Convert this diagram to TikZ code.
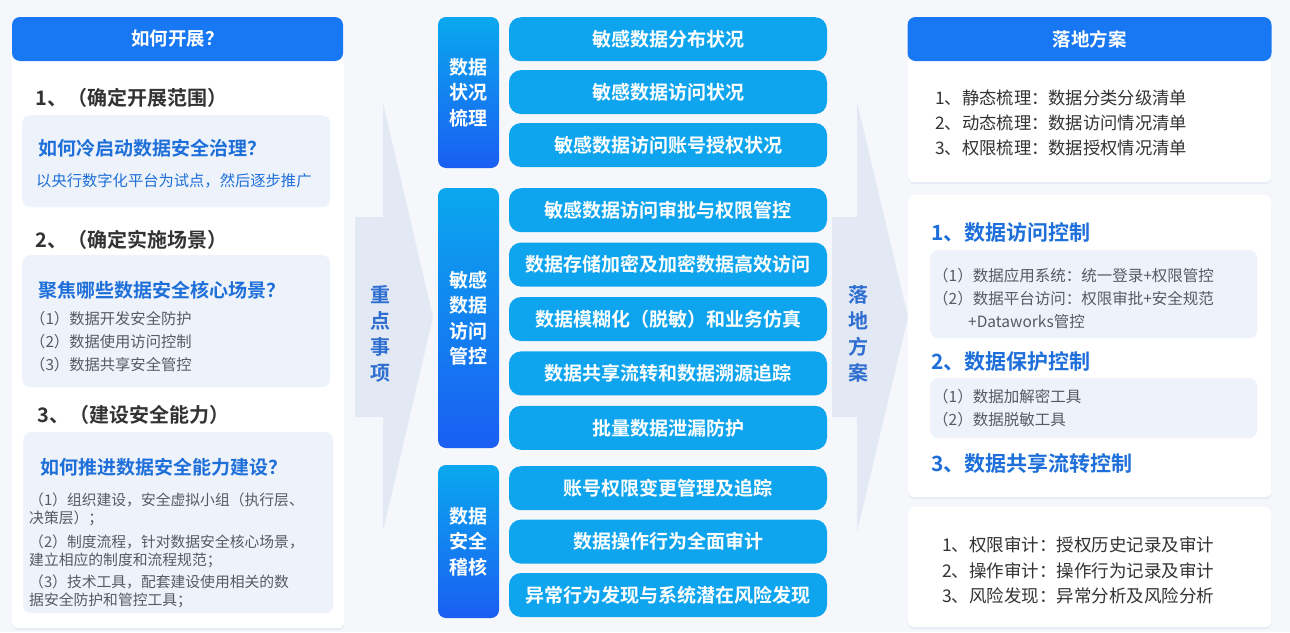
\documentclass[tikz,border=0pt]{standalone}
\usepackage{fontspec}
\setmainfont{Noto Sans CJK SC}[BoldFont={Noto Sans CJK SC Bold}]
\usepackage{tikz}
\usetikzlibrary{positioning, shadows}
\definecolor{PageBg}    {RGB}{245, 247, 251}
\definecolor{HeadBlue}  {RGB}{ 24, 120, 243}
\definecolor{TipBg}     {RGB}{238, 243, 251}
\definecolor{TextDark}  {RGB}{ 51,  51,  51}
\definecolor{QBlue}     {RGB}{ 30, 111, 217}
\definecolor{ItemGray}  {RGB}{ 85,  90, 100}
\definecolor{TaskCyan}  {RGB}{ 15, 165, 238}
\definecolor{GroupTop}  {RGB}{ 10, 168, 238}
\definecolor{GroupBot}  {RGB}{ 26,  94, 242}
\definecolor{ArrowBg}   {RGB}{226, 233, 244}
\definecolor{ArrowText} {RGB}{ 46, 110, 208}
\definecolor{ShadowBlue}{RGB}{150, 170, 210}

\begin{document}
\begin{tikzpicture}[
    x=1pt, y=-1pt,
    header/.style={fill=HeadBlue, rounded corners=8pt, text=white, minimum height=44pt, font=\bfseries\fontsize{18.5}{22}\selectfont},
    card/.style={fill=white, rounded corners=6pt, anchor=north west, inner sep=0pt, drop shadow={shadow xshift=0pt, shadow yshift=-2pt, opacity=0.15, fill=ShadowBlue}},
    tip/.style={fill=TipBg, rounded corners=8pt, anchor=north west, inner sep=0pt},
    sect/.style={anchor=west, inner sep=0pt, text=TextDark, font=\bfseries\fontsize{20}{23}\selectfont},
    quest/.style={anchor=west, inner sep=0pt, text=QBlue, font=\bfseries\fontsize{19}{22}\selectfont},
    item/.style={anchor=west, inner sep=0pt, align=left, text=ItemGray, font=\fontsize{15.3}{23}\selectfont},
    para/.style={item, font=\fontsize{14.8}{18}\selectfont},
    group/.style={top color=GroupTop, bottom color=GroupBot, rounded corners=8pt, minimum width=61pt, text=white, align=center, font=\bfseries\fontsize{19}{25.5}\selectfont},
    task/.style={fill=TaskCyan, rounded corners=12pt, minimum width=318pt, minimum height=44pt, text=white, font=\bfseries\fontsize{19}{22}\selectfont},
    flow/.style={fill=ArrowBg},
    flowtxt/.style={text=ArrowText, align=center, font=\bfseries\fontsize{20}{26}\selectfont},
    plain/.style={anchor=west, inner sep=0pt, align=left, text=TextDark, font=\fontsize{17.3}{25}\selectfont},
    ctrl/.style={anchor=west, inner sep=0pt, text=QBlue, font=\bfseries\fontsize{21}{24}\selectfont}
]

    % Background
    \fill[PageBg] (0,0) rectangle (1290,632);
    \useasboundingbox (0,0) rectangle (1290,632);

    % Flow arrows
    \fill[flow] (355,217) -- (383,217) -- (383,103) -- (433,317) -- (383,531) -- (383,417) -- (355,417) -- cycle;
    \node[flowtxt] (keytxt) at (380,333.5) {重\\点\\事\\项};
    \fill[flow] (832,217) -- (857,217) -- (857,102) -- (908,317) -- (857,532) -- (857,417) -- (832,417) -- cycle;
    \node[flowtxt] (plantxt) at (858,333.5) {落\\地\\方\\案};

    % Left column
    \node[card, minimum width=332pt, minimum height=573pt] (lcard) at (12,55) {};
    \node[header, minimum width=331pt] (lhead) at (177.5,39) {如何开展？};

    \node[sect] (s1) at (35,98) {1、（确定开展范围）};
    \node[tip, minimum width=308pt, minimum height=92pt] (tip1) at (22,115) {};
    \node[quest] (q1) at (38,148) {如何冷启动数据安全治理？};
    \node[quest, font=\fontsize{15.3}{18}\selectfont] (q1a) at (36,181) {以央行数字化平台为试点，然后逐步推广};

    \node[sect] (s2) at (35,240) {2、（确定实施场景）};
    \node[tip, minimum width=308pt, minimum height=132pt] (tip2) at (22,255) {};
    \node[quest] (q2) at (38,290) {聚焦哪些数据安全核心场景？};
    \node[item] (i2) at (30,342) {（1）数据开发安全防护\\（2）数据使用访问控制\\（3）数据共享安全管控};

    \node[sect] (s3) at (37,415) {3、（建设安全能力）};
    \node[tip, minimum width=310pt, minimum height=181pt] (tip3) at (23,432) {};
    \node[quest] (q3) at (40,467) {如何推进数据安全能力建设？};
    \node[para] (i31) at (29,509) {（1）组织建设，安全虚拟小组（执行层、\\决策层）；};
    \node[para] (i32) at (29,551) {（2）制度流程，针对数据安全核心场景，\\建立相应的制度和流程规范；};
    \node[para] (i33) at (29,591) {（3）技术工具，配套建设使用相关的数\\据安全防护和管控工具；};

    % Middle column
    \node[group, minimum height=151pt] (gscan) at (468.5,92.5) {数据\\状况\\梳理};
    \node[group, minimum height=260pt] (gctrl) at (468.5,318) {敏感\\数据\\访问\\管控};
    \node[group, minimum height=153pt] (gaudit) at (468.5,541.5) {数据\\安全\\稽核};

    \node[task, anchor=north] (t1) at (668,17) {敏感数据分布状况};
    \node[task, below=8.5pt of t1] (t2) {敏感数据访问状况};
    \node[task, below=8.5pt of t2] (t3) {敏感数据访问账号授权状况};

    \node[task, anchor=north] (t4) at (668,188) {敏感数据访问审批与权限管控};
    \node[task, below=10pt of t4] (t5) {数据存储加密及加密数据高效访问};
    \node[task, below=10pt of t5] (t6) {数据模糊化（脱敏）和业务仿真};
    \node[task, below=10pt of t6] (t7) {数据共享流转和数据溯源追踪};
    \node[task, below=10pt of t7] (t8) {批量数据泄漏防护};

    \node[task, anchor=north] (t9) at (668,466) {账号权限变更管理及追踪};
    \node[task, below=9pt of t9] (t10) {数据操作行为全面审计};
    \node[task, below=9pt of t10] (t11) {异常行为发现与系统潜在风险发现};

    % Right column
    \node[card, minimum width=363pt, minimum height=127pt] (rcard1) at (908,55) {};
    \node[card, minimum width=363pt, minimum height=302pt] (rcard2) at (908,195) {};
    \node[card, minimum width=363pt, minimum height=120pt] (rcard3) at (908,507) {};
    \node[header, minimum width=364pt] (rhead) at (1089.5,39) {落地方案};

    \node[plain] (sorting) at (935,123) {1、静态梳理：数据分类分级清单\\2、动态梳理：数据访问情况清单\\3、权限梳理：数据授权情况清单};

    \node[ctrl] (c1) at (931,233) {1、数据访问控制};
    \node[tip, minimum width=327pt, minimum height=88pt] (tip4) at (930,250) {};
    \node[item, font=\fontsize{15.5}{23}\selectfont] (c1a) at (933,298) {（1）数据应用系统：统一登录+权限管控\\（2）数据平台访问：权限审批+安全规范\\\hspace*{35pt}+Dataworks管控};

    \node[ctrl] (c2) at (931,362) {2、数据保护控制};
    \node[tip, minimum width=327pt, minimum height=60pt] (tip5) at (930,378) {};
    \node[item, font=\fontsize{15.5}{23}\selectfont] (c2a) at (933,408.5) {（1）数据加解密工具\\（2）数据脱敏工具};

    \node[ctrl] (c3) at (931,463) {3、数据共享流转控制};

    \node[plain, font=\fontsize{17.5}{25.5}\selectfont] (auditing) at (942,570.5) {1、权限审计：授权历史记录及审计\\2、操作审计：操作行为记录及审计\\3、风险发现：异常分析及风险分析};

\end{tikzpicture}
\end{document}
